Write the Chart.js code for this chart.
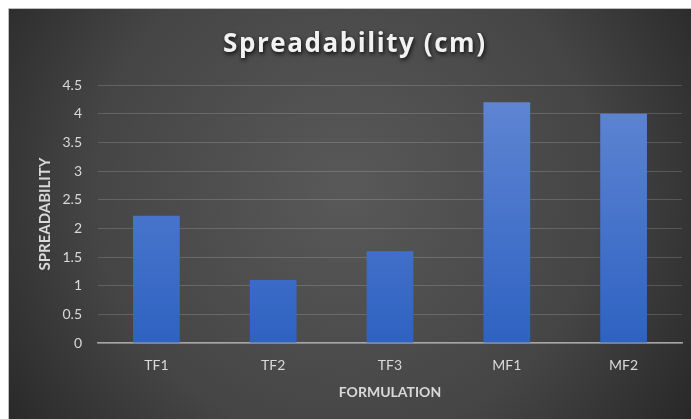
<!DOCTYPE html>
<html><head><meta charset="utf-8">
<script src="https://cdn.jsdelivr.net/npm/chart.js@4/dist/chart.umd.min.js"></script>
<style>html,body{margin:0;padding:0;background:#fff;}#wrap{width:691px;height:419px;}</style>
</head><body><div id="wrap"><canvas id="c"></canvas></div>
<script>
const categories = ["TF1", "TF2", "TF3", "MF1", "MF2"];
const spreadability = [2.22, 1.1, 1.6, 4.2, 4.0];
const chartTitle = "Spreadability (cm)";
const xTitle = "FORMULATION";
const yTitle = "SPREADABILITY";
const FONT = 'Lato, "Open Sans", sans-serif';
const TITLE_FONT = '"Open Sans", Lato, sans-serif';

const bgPlugin = {
  id: 'bg',
  beforeDraw(chart) {
    const ctx = chart.ctx, w = chart.width, h = chart.height;
    ctx.save();
    ctx.fillStyle = '#ffffff';
    ctx.fillRect(0, 0, w, h);
    const x0 = 9, y0 = 9;
    const g = ctx.createRadialGradient(w * 0.5, h * 0.45, 10, w * 0.5, h * 0.45, w * 0.6);
    g.addColorStop(0, '#585858');
    g.addColorStop(0.6, '#454545');
    g.addColorStop(1, '#282828');
    ctx.fillStyle = g;
    ctx.fillRect(x0, y0, w - x0, h - y0);
    ctx.strokeStyle = '#bdbdbd';
    ctx.lineWidth = 1;
    ctx.beginPath();
    ctx.moveTo(x0 - 0.5, h); ctx.lineTo(x0 - 0.5, y0 - 0.5); ctx.lineTo(w, y0 - 0.5);
    ctx.stroke();
    ctx.restore();
  }
};

const titlePlugin = {
  id: 'shadowTitle',
  afterDraw(chart) {
    const ctx = chart.ctx;
    ctx.save();
    ctx.font = 'bold 26px ' + TITLE_FONT;
    const base = ctx.measureText(chartTitle).width;
    const sp = Math.max(-1, Math.min(2, (262 - base) / (chartTitle.length - 1)));
    ctx.letterSpacing = sp.toFixed(2) + 'px';
    ctx.textAlign = 'center';
    ctx.textBaseline = 'alphabetic';
    ctx.shadowColor = 'rgba(0,0,0,0.85)';
    ctx.shadowBlur = 4;
    ctx.shadowOffsetX = 1;
    ctx.shadowOffsetY = 2;
    ctx.fillStyle = '#f2f2f2';
    ctx.fillText(chartTitle, 354 + sp / 2, 52);
    ctx.restore();
  }
};

new Chart(document.getElementById('c'), {
  type: 'bar',
  data: {
    labels: categories,
    datasets: [{
      data: spreadability,
      backgroundColor(ctx) {
        const ca = ctx.chart.chartArea;
        if (!ca) return '#4472c4';
        const g = ctx.chart.ctx.createLinearGradient(0, ca.top, 0, ca.bottom);
        g.addColorStop(0, '#6287d4');
        g.addColorStop(1, '#2e62c2');
        return g;
      },
      borderWidth: 0,
      categoryPercentage: 0.8,
      barPercentage: 0.5
    }]
  },
  options: {
    responsive: true,
    maintainAspectRatio: false,
    animation: false,
    layout: { padding: { top: 85, right: 9, left: 0, bottom: 0 } },
    plugins: { legend: { display: false }, tooltip: { enabled: false }, title: { display: false } },
    scales: {
      x: {
        afterFit(s) { s.height = 76; },
        grid: { display: false, drawTicks: false },
        border: { color: '#a6a6a6', width: 1.5 },
        ticks: { color: '#d9d9d9', font: { family: FONT, size: 14 }, padding: 14 },
        title: { display: true, text: xTitle, color: '#d9d9d9', font: { family: FONT, size: 14, weight: 'bold' }, padding: { top: 0, bottom: 18 } }
      },
      y: {
        afterFit(s) { s.width = 98; },
        min: 0, max: 4.5,
        ticks: { stepSize: 0.5, color: '#d9d9d9', font: { family: FONT, size: 14 }, padding: 16,
          callback(v) { return String(Math.round(v * 10) / 10); } },
        grid: { color: 'rgba(255,255,255,0.16)', drawTicks: false },
        border: { display: false },
        title: { display: true, text: yTitle, color: '#d9d9d9', font: { family: FONT, size: 15, weight: 'bold' }, padding: { top: 36, bottom: 0 } }
      }
    }
  },
  plugins: [bgPlugin, titlePlugin]
});
</script></body></html>
